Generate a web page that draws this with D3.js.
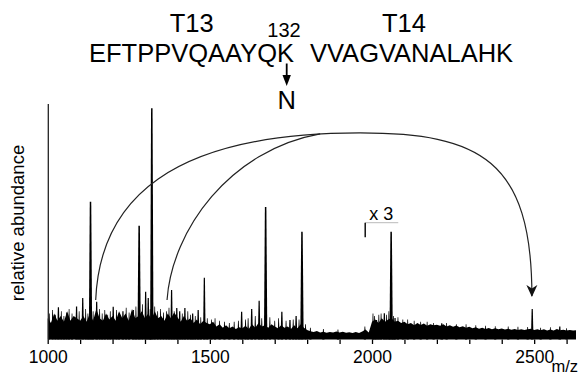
<!DOCTYPE html>
<html>
<head>
<meta charset="utf-8">
<script src="https://cdn.jsdelivr.net/npm/d3@7"></script>
<style>
  body { margin: 0; background: #fff; }
  svg { display: block; font-family: "Liberation Sans", Arial, Helvetica, sans-serif; }
</style>
</head>
<body>
<div id="chart"></div>
<script>
// Background noise, one value every 10 m/z starting at 1000.
// Values from ~1995 on are shown as drawn (x 3 magnified part).
const NOISE_START = 1000;
const NOISE_STEP = 10;
const MZ_END = 2629;
const noise = [
    9, 7, 11, 8, 10, 7.5, 12, 8, 10, 9,         // 1000
    8, 10, 7.5, 11, 8, 13, 9, 8, 11, 8.5,       // 1100
    10, 8, 12, 9, 11, 8, 13, 9, 10, 12,         // 1200
    9, 11, 8.5, 12, 9, 10, 8, 11, 9, 11.5,      // 1300
    9.5, 7.5, 10, 8, 9, 7, 8.5, 6.5, 8, 7,      // 1400
    6.5, 7.5, 5.5, 6.5, 5, 6, 4.8, 5.5, 4.5, 5.2, // 1500
    4.8, 5.8, 4.5, 6.5, 5, 7, 5.5, 6, 5, 6.5,   // 1600
    5.5, 4.8, 6, 5, 5.5, 4.5, 6, 4.8, 6.5, 5,   // 1700
    4, 3.5, 3.2, 3.6, 3, 3.3, 2.9, 3.2, 3, 3.4, // 1800
    3, 3.3, 2.9, 3.1, 2.8, 3.2, 2.8, 3.4, 4.2, 3, // 1900
    7.5, 8.5, 7, 9, 7.5, 8.5, 9, 7.5, 8, 7,     // 2000
    7.5, 6.5, 7, 6, 7, 6.2, 6.8, 5.8, 6.5, 6,   // 2100
    6.3, 5.8, 6.5, 5.5, 6, 5.4, 5.9, 5.2, 5.6, 5, // 2200
    5.4, 4.8, 5.2, 4.6, 5, 4.5, 4.9, 4.4, 4.8, 4.3, // 2300
    4.7, 4.2, 4.6, 4.1, 4.5, 4, 4.4, 4, 4.3, 4.6, // 2400
    4, 4.4, 3.9, 4.3, 3.8, 4.2, 3.8, 4.5, 3.9, 4.1, // 2500
    3.8, 4, 3.8                                  // 2600
];
const noiseEnd = 3.9;

// Resolved peaks: m/z and relative abundance
const peakMz = [1033, 1089, 1108, 1132, 1151, 1202, 1232, 1264, 1282, 1302, 1310, 1321,
    1382, 1398, 1407, 1423, 1447, 1464, 1483, 1598, 1629, 1652, 1672, 1722, 1747, 1766, 1784,
    2014, 2038, 2059, 2071, 2215, 2494, 2579];
const peakHeight = [13.7, 14, 17.6, 58.5, 16, 13.9, 12, 12.5, 48.3, 20.3, 17.6, 98.2,
    21, 13.4, 12, 13.4, 11, 12.5, 26.2, 11.8, 13, 16.5, 56.3, 11.8, 8.3, 10, 45.8,
    8.3, 11.1, 45.8, 9.1, 6.9, 13, 5.5];

// Small noise spikes sticking out of the floor
const spikeMz = [1005, 1015, 1024, 1042, 1050, 1058, 1066, 1075, 1097, 1117, 1124, 1140,
    1160, 1168, 1176, 1185, 1193, 1212, 1220, 1242, 1251, 1272, 1292, 1316, 1330, 1339,
    1348, 1357, 1366, 1374, 1390, 1415, 1432, 1440, 1455, 1472, 1492, 1505, 1516, 1530,
    1545, 1560, 1575, 1588, 1610, 1618, 1640, 1660, 1685, 1700, 1712, 1735, 1757, 1775,
    1795, 1810, 1850, 1895, 1978, 2003, 2008, 2021, 2028, 2045, 2052, 2066, 2080, 2095,
    2110, 2130, 2150, 2170, 2190, 2230, 2260, 2290, 2320, 2350, 2380, 2420, 2450, 2480,
    2520, 2550, 2600];
const spikeHeight = [11, 12.5, 10.5, 12, 10, 11.5, 13, 11, 12, 13, 11, 12,
    13, 11, 12.5, 10.5, 12, 12.5, 11, 13.5, 11.5, 14, 15, 13, 14, 12,
    13, 11.5, 12, 13.5, 12, 11, 12, 10.5, 10, 9.5, 9, 8.5, 9, 8,
    7.5, 7, 7.5, 8, 8.5, 9, 10, 9, 9.5, 8, 9, 8, 8.5, 8.5,
    6.5, 5, 4.5, 4.2, 5.5, 11, 10, 10.5, 11, 10.5, 12, 10, 9.5, 8.5,
    8.5, 8, 7.5, 7.5, 7, 7, 6.5, 6.5, 6, 5.8, 5.6, 5.5, 5.4, 5.3,
    5, 5.2, 4.8];

const tickValues = [1000, 1100, 1200, 1300, 1400, 1500, 1600, 1700, 1800, 1900, 2000, 2100, 2200, 2300, 2400, 2500, 2600];
const tickLabels = [1000, 1500, 2000, 2500];

// Peptide annotation
const fragmentNames = ["T13", "T14"];
const sequences = ["EFTPPVQAAYQK", "VVAGVANALAHK"];
const residueNumber = "132";
const substitution = "N";

// Magnified region marker
const magnifyLabel = "x 3";
const magnifyFrom = 1979;
const magnifyTo = 2081;
const magnifyLevel = 49.6;
const magnifyTick = 43.4;

// Connecting arcs as cubic curves in (m/z, abundance)
const arcFromT13 = [[1148, 16.8], [1161, 59.2], [1377, 87.7], [1963, 87.7]];
const arcFromT14 = [[1368, 16.8], [1383, 46.5], [1562, 80.5], [1840, 87.3]];
const arcToProduct = [[1963, 87.7], [2333, 87.7], [2493, 76.2], [2493, 18.5]];

const width = 581, height = 376;

const svg = d3.select("#chart")
    .append("svg")
    .attr("width", width)
    .attr("height", height);

const x = d3.scaleLinear().domain([NOISE_START, MZ_END]).range([47.7, 576]);
const y = d3.scaleLinear().domain([0, 100]).range([339.5, 104]);

// Noise floor
const noisePoints = noise.map((v, i) => [NOISE_START + i * NOISE_STEP, v]);
noisePoints.push([MZ_END, noiseEnd]);

svg.append("path")
    .datum(noisePoints)
    .attr("fill", "#000")
    .attr("d", d3.area()
        .x(d => x(d[0]))
        .y0(y(0))
        .y1(d => y(d[1])));

function spikePath(mz, h, base, tip) {
    const cx = x(mz);
    return `M${cx - base},${y(0)}L${cx - tip},${y(h)}L${cx + tip},${y(h)}L${cx + base},${y(0)}Z`;
}

// Noise spikes
svg.selectAll(".spike")
    .data(spikeMz.map((m, i) => ({mz: m, h: spikeHeight[i]})))
    .enter()
    .append("path")
    .attr("class", "spike")
    .attr("fill", "#000")
    .attr("d", d => spikePath(d.mz, d.h, 1.1, 0.35));

// Peaks
svg.selectAll(".peak")
    .data(peakMz.map((m, i) => ({mz: m, h: peakHeight[i]})))
    .enter()
    .append("path")
    .attr("class", "peak")
    .attr("fill", "#000")
    .attr("d", d => spikePath(d.mz, d.h, d.h > 40 ? 1.7 : 1.3, d.h > 40 ? 0.75 : 0.6));

// y axis line
svg.append("line")
    .attr("x1", x(NOISE_START) + 0.6)
    .attr("x2", x(NOISE_START) + 0.6)
    .attr("y1", y(100))
    .attr("y2", y(0))
    .style("stroke", "#222")
    .style("stroke-width", 1.3);

// x axis
const xAxis = d3.axisBottom(x)
    .tickValues(tickValues)
    .tickSize(4.5)
    .tickPadding(6.7)
    .tickFormat(d => tickLabels.includes(d) ? d : "");

const gx = svg.append("g")
    .attr("transform", `translate(0,${y(0)})`)
    .call(xAxis);
gx.select(".domain").remove();
gx.selectAll(".tick line").style("stroke", "#000").style("stroke-width", 1.3);
gx.selectAll(".tick text")
    .style("font-size", "17.5px")
    .style("fill", "#000")
    .style("font-family", "'Liberation Sans', Arial, sans-serif");

svg.append("text")
    .attr("x", 578)
    .attr("y", 372)
    .attr("text-anchor", "end")
    .style("font-size", "16.5px")
    .text("m/z");

svg.append("text")
    .attr("transform", "translate(24,223) rotate(-90)")
    .attr("text-anchor", "middle")
    .style("font-size", "18.5px")
    .text("relative abundance");

// Magnified region bracket
svg.append("line")
    .attr("x1", x(magnifyFrom)).attr("x2", x(magnifyTo))
    .attr("y1", y(magnifyLevel)).attr("y2", y(magnifyLevel))
    .style("stroke", "#bbb").style("stroke-width", 1);
svg.append("line")
    .attr("x1", x(magnifyFrom)).attr("x2", x(magnifyFrom))
    .attr("y1", y(magnifyLevel)).attr("y2", y(magnifyTick))
    .style("stroke", "#000").style("stroke-width", 1.4);
svg.append("text")
    .attr("x", x(magnifyFrom) + 4)
    .attr("y", y(magnifyLevel) - 2.5)
    .style("font-size", "18px")
    .text(magnifyLabel);

// Arcs
svg.append("defs").append("marker")
    .attr("id", "head")
    .attr("viewBox", "0 0 12 12")
    .attr("refX", 11).attr("refY", 6)
    .attr("markerWidth", 12).attr("markerHeight", 12)
    .attr("markerUnits", "userSpaceOnUse")
    .attr("orient", "auto")
    .append("path")
    .attr("d", "M0,0.5L12,6L0,11.5L3.5,6Z")
    .attr("fill", "#111");

function bezier(pts) {
    const p = pts.map(d => [x(d[0]), y(d[1])]);
    const path = d3.path();
    path.moveTo(p[0][0], p[0][1]);
    path.bezierCurveTo(p[1][0], p[1][1], p[2][0], p[2][1], p[3][0], p[3][1]);
    return path.toString();
}

[arcFromT13, arcFromT14, arcToProduct].forEach((pts, i) => {
    svg.append("path")
        .attr("d", bezier(pts))
        .attr("fill", "none")
        .style("stroke", "#222")
        .style("stroke-width", 1.2)
        .attr("marker-end", i === 2 ? "url(#head)" : null);
});

// Peptide sequence annotation
const header = svg.append("g").style("fill", "#000");

header.append("text").attr("x", 191.7).attr("y", 32)
    .attr("text-anchor", "middle").style("font-size", "25.5px").text(fragmentNames[0]);
header.append("text").attr("x", 404).attr("y", 32)
    .attr("text-anchor", "middle").style("font-size", "25.5px").text(fragmentNames[1]);
header.append("text").attr("x", 89).attr("y", 61.5)
    .style("font-size", "25.5px").text(sequences[0]);
header.append("text").attr("x", 310).attr("y", 61.5)
    .style("font-size", "25.5px").text(sequences[1]);
header.append("text").attr("x", 284).attr("y", 37)
    .attr("text-anchor", "middle").style("font-size", "20px").text(residueNumber);
header.append("text").attr("x", 286.7).attr("y", 109.3)
    .attr("text-anchor", "middle").style("font-size", "25.5px").text(substitution);

header.append("line")
    .attr("x1", 286.7).attr("x2", 286.7)
    .attr("y1", 63.5).attr("y2", 77)
    .style("stroke", "#000").style("stroke-width", 1.8);
header.append("path")
    .attr("d", "M282.5,75L290.9,75L286.7,86Z")
    .attr("fill", "#000");
</script>
</body>
</html>
